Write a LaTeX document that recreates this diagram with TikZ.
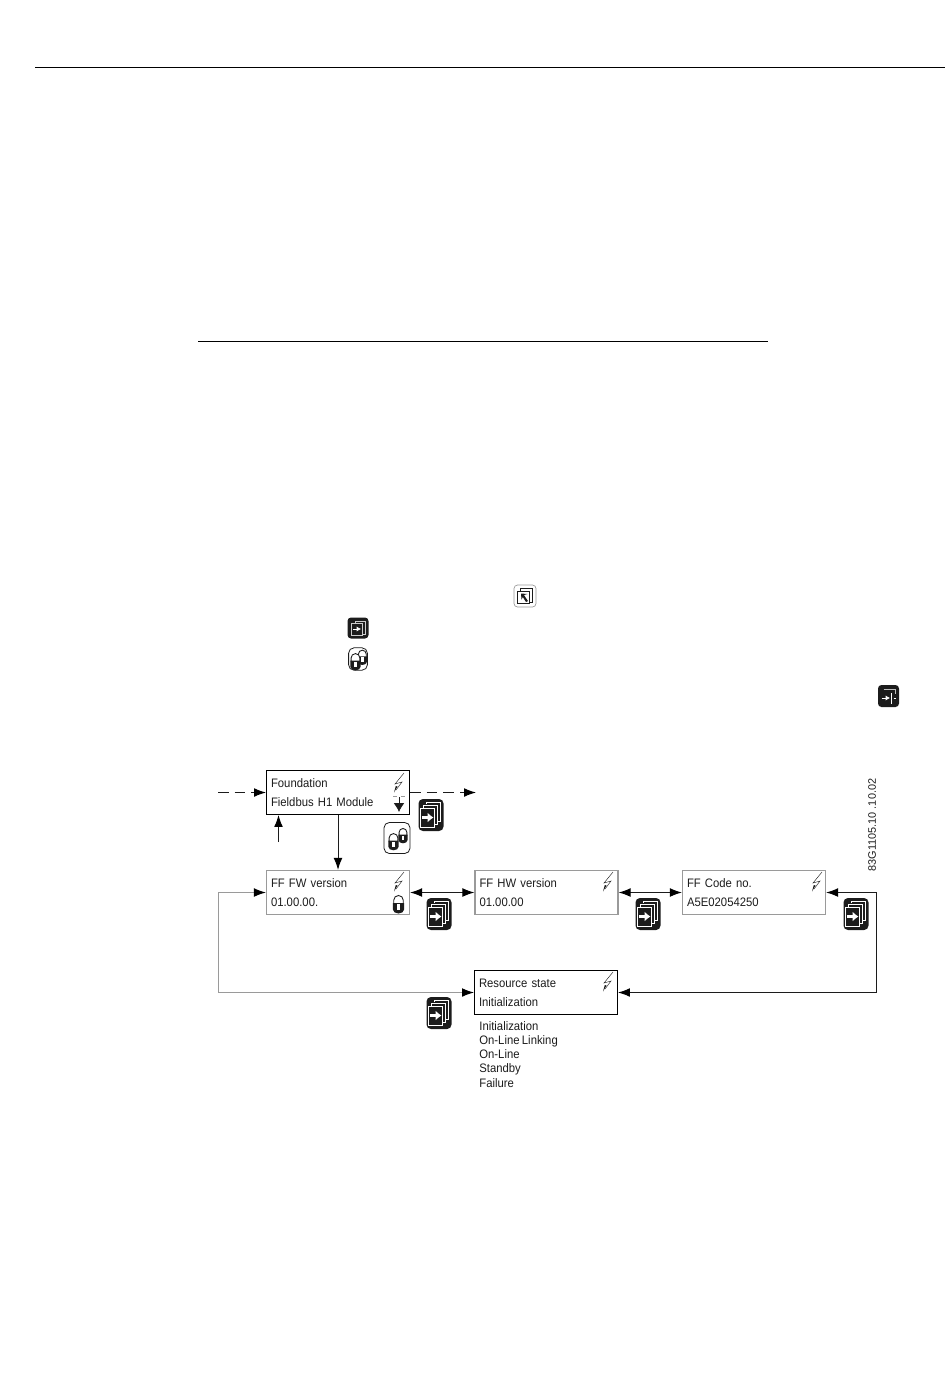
\documentclass[tikz,border=0pt]{standalone}
\usepackage{fontspec}
\setmainfont{Liberation Sans}
\newfontfamily\screenfont[FakeStretch=0.92,WordSpace=0.75]{Liberation Sans}
\usetikzlibrary{arrows.meta}
\definecolor{sDark}{HTML}{1C1C1C}
\definecolor{sGrey}{HTML}{9A9A9A}
\tikzset{
	boltIcon/.pic={
		\draw[line width=0.25pt, sDark] (5,-10) -- (-4,1) -- (3,-1) -- (-3,7);
		\fill[sDark] (-1.5,3.5) -- (-5,9.5) -- (-3.2,3);
	},
	lockShape/.pic={
		\draw[line width=0.5pt, sDark, fill=white] (-5,0) -- (-5,-4) arc (180:360:5) -- (5,0);
		\fill[sDark] (-5.8,-1) -- (5.8,-1) -- (5.8,6) arc (0:180:5.8 and 4) -- cycle;
		\fill[white] (-1.6,0) rectangle (1.6,6);
	},
	pagesIcon/.pic={
		\fill[sDark, rounded corners=2.5pt] (-12.5,-16) rectangle (12.5,16);
		\draw[white, line width=0.4pt] (-5,-11) -- (-5,-13) -- (9.5,-13) -- (9.5,6) -- (7,6);
		\draw[white, line width=0.4pt] (-8,-7) -- (-8,-10) -- (6.5,-10) -- (6.5,9) -- (4,9);
		\draw[white, line width=0.5pt] (-10.5,-7) rectangle (3.5,12.5);
		\draw[white, line width=1.5pt, -{Latex[length=3.4pt,width=5.8pt]}] (-9,2.5) -- (2.5,2.5);
	},
	enterIcon/.pic={
		\fill[sDark, rounded corners=2pt] (-10.5,-10.5) rectangle (10.5,10.5);
		\draw[white!80!black, line width=0.3pt] (-3,-5) -- (-3,-7) -- (7,-7) -- (7,6) -- (5,6);
		\draw[white!80!black, line width=0.3pt] (-7,-5) rectangle (4,7);
		\draw[white, line width=0.5pt, -{Latex[length=2.5pt,width=3pt]}] (-5,1) -- (3,1);
	},
	exitIcon/.pic={
		\fill[sDark, rounded corners=2pt] (-10.5,-11) rectangle (10.5,11);
		\draw[white!75!black, line width=0.3pt] (-5,-7) -- (7,-7) -- (7,-2);
		\draw[white, line width=0.5pt, -{Latex[length=2.5pt,width=3pt]}] (-7,2) -- (1.5,2);
		\draw[white, line width=0.5pt] (2.5,-3) -- (2.5,8) (5,2) -- (7,2);
	},
	menuIcon/.pic={
		\draw[sGrey, line width=0.4pt, rounded corners=2pt] (-11,-11) rectangle (11,11);
		\draw[sDark, line width=0.35pt] (-5,-5) -- (-5,-8) -- (7,-8) -- (7,6) -- (4,6);
		\draw[sDark, line width=0.35pt, fill=white] (-8,-5) rectangle (4,7.5);
		\fill[sDark] (-4,-2.5) -- (2.5,-2) -- (-1,-1) -- (3,5) -- (1,6) -- (-2.2,1) -- (-3.5,3.5) -- cycle;
	},
	lockPairIcon/.pic={
		\draw[sDark, line width=0.45pt, fill=white, rounded corners=3pt] (-13,-15.5) rectangle (13,15.5);
		\pic[scale=0.78] at (6,-2.5) {lockShape};
		\pic[scale=0.88] at (-3.5,3.5) {lockShape};
	}
}
\begin{document}
\begin{tikzpicture}[x=0.02cm,y=-0.02cm,>={Latex[length=6.8pt,width=5pt,black]}]
	\tikzstyle{BOX} = [minimum width=2.86cm, minimum height=0.88cm, text width=2.68cm, inner xsep=0.09cm, inner ysep=0pt, align=left, font=\screenfont\fontsize{7}{10.8}\selectfont, text=sDark]
	\tikzstyle{active} = [BOX, draw=black, line width=0.6pt]
	\tikzstyle{param} = [BOX, draw=sGrey, line width=0.7pt]
	\tikzstyle{link} = [line width=0.55pt, sDark]
	\tikzstyle{back} = [line width=0.6pt, sGrey]

	\useasboundingbox (0,0) rectangle (950,1397);
	\draw[line width=0.55pt] (35,67.5) -- (945,67.5);
	\draw[line width=0.45pt] (198,341) -- (768,341);

	\pic at (525,596) {menuIcon};
	\pic at (358,628) {enterIcon};
	\pic[scale=0.72] at (358,659) {lockPairIcon};
	\pic at (888.5,696) {exitIcon};

	\node[active] (ffModule) at	(338, 792.5) {Foundation\\Fieldbus H1 Module};
	\node[param] (ffFw) at		(338, 892.5) {FF FW version\\01.00.00.};
	\node[param] (ffHw) at		(546.5, 892.5) {FF HW version\\01.00.00};
	\node[param] (ffCode) at	(754, 892.5) {FF Code no.\\A5E02054250};
	\node[active] (resState) at	(546, 992.5) {Resource state\\Initialization};
	\node[anchor=north west, inner sep=0pt, align=left, text=sDark, font=\screenfont\fontsize{7}{8.1}\selectfont] (stateList) at (479, 1021) {Initialization\\On-Line Linking\\On-Line\\Standby\\Failure};
	\node[rotate=90, inner sep=0pt, text=sDark, font=\fontsize{6.2}{7}\selectfont] (figNo) at (872, 825) {83G1105.10 .10.02};

	\coordinate (inLeft) at		(218, 792.5);
	\coordinate (outRight) at	(476, 792.5);
	\coordinate (upStart) at	(278.5, 842);
	\coordinate (upEnd) at		(278.5, 815);
	\coordinate (cLeft) at		(218.5, 992.5);
	\coordinate (cRight) at		(876.5, 992.5);

	\draw[->, link, dash pattern=on 6pt off 3.5pt] (inLeft) -- (ffModule.west);
	\draw[->, link, dash pattern=on 6pt off 3.5pt] (ffModule.east) -- (outRight);
	\draw[->, link] (upStart) -- (upEnd);
	\draw[->, link] (ffModule.south) -- (ffFw.north);
	\draw[<->, link] (ffFw.east) -- (ffHw.west);
	\draw[<->, link] (ffHw.east) -- (ffCode.west);
	\draw[<->, link] (ffCode.east) -| (cRight) -- (resState.east);
	\draw[->, back] (cLeft) |- (ffFw.west);
	\draw[->, back] (cLeft) -- (resState.west);

	\pic at (399,783) {boltIcon};
	\pic at (399,882) {boltIcon};
	\pic at (608,882) {boltIcon};
	\pic at (817,882) {boltIcon};
	\pic at (608,982) {boltIcon};

	% menu down marker and lock of the first screens
	\draw[line width=0.35pt, sGrey] (393,796) -- (397,796) (401,796) -- (405,796);
	\draw[-{Latex[length=5pt,width=6pt]}, sDark, line width=0.5pt] (399,797) -- (399,812);
	\pic[scale=0.95] at (398.5,904) {lockShape};

	\pic at (431,815) {pagesIcon};
	\pic at (397,838) {lockPairIcon};
	\pic at (439,914) {pagesIcon};
	\pic at (648,914) {pagesIcon};
	\pic at (856,914) {pagesIcon};
	\pic at (439,1013) {pagesIcon};
\end{tikzpicture}
\end{document}
